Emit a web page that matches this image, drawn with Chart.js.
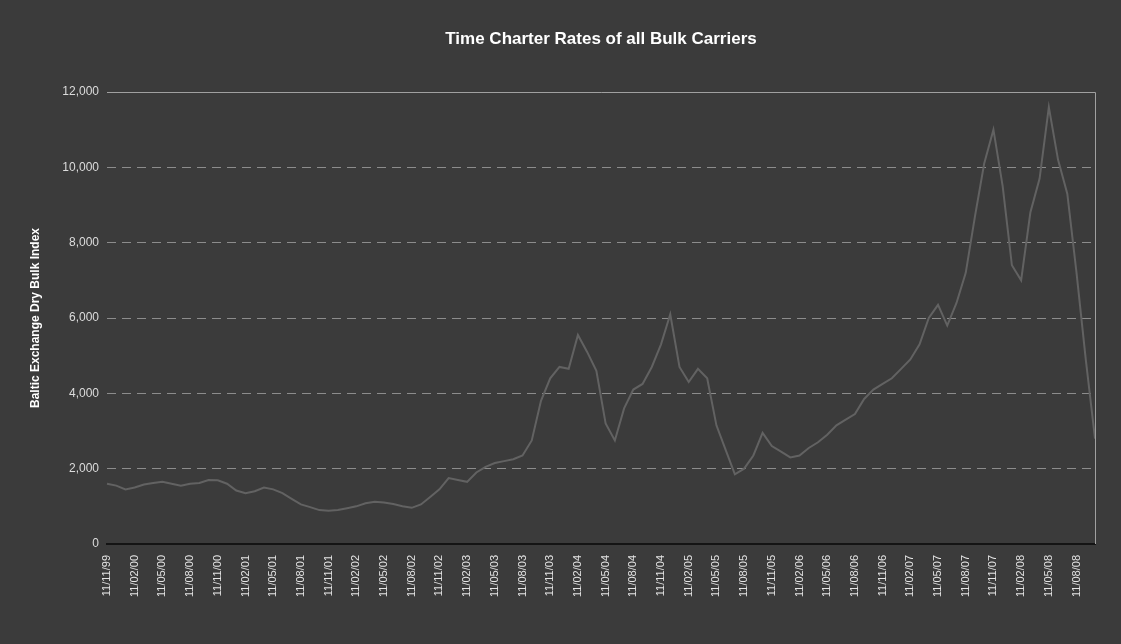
<!DOCTYPE html>
<html>
<head>
<meta charset="utf-8">
<title>Time Charter Rates of all Bulk Carriers</title>
<script src="https://cdn.jsdelivr.net/npm/chart.js@4/dist/chart.umd.min.js"></script>
<style>
    html, body { margin: 0; padding: 0; background: #3b3b3b; }
    #wrap { width: 1121px; height: 644px; position: relative; }
</style>
</head>
<body>
<div id="wrap"><canvas id="bdiChart"></canvas></div>
<script>
// monthly readings, 11th of each month, Nov 1999 - Oct 2008
const years = ['99', '00', '01', '02', '03', '04', '05', '06', '07', '08'];
const dates = [];
years.forEach((yy, i) => {
    const first = i === 0 ? 11 : 1;
    const last = yy === '08' ? 10 : 12;
    for (let m = first; m <= last; m++) {
        dates.push('11/' + String(m).padStart(2, '0') + '/' + yy);
    }
});

const bdi = [
    1600, 1550,
    1450, 1500, 1580, 1620, 1650, 1600, 1550, 1600, 1620, 1700, 1690, 1600,
    1420, 1350, 1400, 1500, 1450, 1350, 1200, 1050, 980, 900, 880, 900,
    950, 1000, 1080, 1120, 1100, 1060, 1000, 960, 1050, 1250, 1450, 1750,
    1700, 1650, 1900, 2050, 2150, 2200, 2250, 2350, 2750, 3800, 4400, 4700,
    4650, 5550, 5100, 4600, 3200, 2750, 3600, 4100, 4250, 4700, 5300, 6100,
    4700, 4300, 4650, 4400, 3150, 2500, 1850, 2000, 2350, 2950, 2600, 2450,
    2300, 2350, 2550, 2700, 2900, 3150, 3300, 3450, 3850, 4100, 4250, 4400,
    4650, 4900, 5300, 6000, 6350, 5800, 6400, 7200, 8700, 10100, 11000, 9500,
    7400, 7000, 8800, 9700, 11600, 10200, 9300, 7200, 4900, 2800
];

const yTicks = [0, 2000, 4000, 6000, 8000, 10000, 12000];
const chartTitle = 'Time Charter Rates of all Bulk Carriers';
const yTitle = 'Baltic Exchange Dry Bulk Index';

// background, title centred over the plot area, solid frame on top and right
const framePlugin = {
    id: 'frame',
    beforeDraw(chart) {
        const { ctx, width, height } = chart;
        ctx.save();
        ctx.fillStyle = '#3b3b3b';
        ctx.fillRect(0, 0, width, height);
        ctx.restore();
    },
    afterDraw(chart) {
        const { ctx, chartArea } = chart;
        const yTop = chart.scales.y.getPixelForValue(12000);
        ctx.save();
        ctx.strokeStyle = '#a0a0a0';
        ctx.lineWidth = 1;
        ctx.beginPath();
        ctx.moveTo(chartArea.left, Math.round(yTop) + 0.5);
        ctx.lineTo(chartArea.right + 0.5, Math.round(yTop) + 0.5);
        ctx.lineTo(chartArea.right + 0.5, chartArea.bottom);
        ctx.stroke();
        ctx.fillStyle = '#ffffff';
        ctx.font = 'bold 17px "Liberation Sans", Arial, sans-serif';
        ctx.textAlign = 'center';
        ctx.textBaseline = 'middle';
        ctx.fillText(chartTitle, (chartArea.left + chartArea.right) / 2, 39);
        ctx.restore();
    }
};

const ctx = document.getElementById('bdiChart').getContext('2d');
new Chart(ctx, {
    type: 'line',
    data: {
        labels: dates,
        datasets: [{
            label: 'BDI',
            data: bdi,
            borderColor: '#626262',
            borderWidth: 2,
            pointRadius: 0,
            tension: 0,
            fill: false
        }]
    },
    options: {
        responsive: true,
        maintainAspectRatio: false,
        animation: false,
        layout: { padding: { top: 92, right: 26, left: 28, bottom: 0 } },
        plugins: {
            legend: { display: false },
            title: { display: false },
            tooltip: { enabled: false }
        },
        scales: {
            x: {
                type: 'category',
                offset: false,
                afterFit: (scale) => { scale.height = 100; },
                grid: { display: false, drawTicks: false },
                border: { display: true, color: '#141414', width: 2 },
                ticks: {
                    autoSkip: false,
                    maxRotation: 90,
                    minRotation: 90,
                    padding: 11,
                    color: '#e4e4e4',
                    font: { family: '"Liberation Sans", Arial, sans-serif', size: 11 },
                    callback: function(value, index) {
                        return index % 3 === 0 ? this.getLabelForValue(value) : '';
                    }
                }
            },
            y: {
                min: 0,
                max: 12000,
                afterFit: (scale) => { scale.width = 79; },
                afterBuildTicks: (scale) => {
                    scale.ticks = yTicks.map(v => ({ value: v }));
                },
                grid: {
                    drawTicks: false,
                    lineWidth: 1,
                    color: (c) => (c.tick.value === 0 || c.tick.value === 12000)
                        ? 'rgba(0,0,0,0)' : '#8c8c8c'
                },
                border: { display: false, dash: [9, 6] },
                title: {
                    display: true,
                    text: yTitle,
                    color: '#ffffff',
                    font: { family: '"Liberation Sans", Arial, sans-serif', size: 12, weight: 'bold' },
                    padding: { top: 0, bottom: 0 }
                },
                ticks: {
                    padding: 8,
                    color: '#dcdcdc',
                    font: { family: '"Liberation Sans", Arial, sans-serif', size: 12 },
                    callback: (v) => v.toLocaleString('en-US')
                }
            }
        }
    },
    plugins: [framePlugin]
});
</script>
</body>
</html>
